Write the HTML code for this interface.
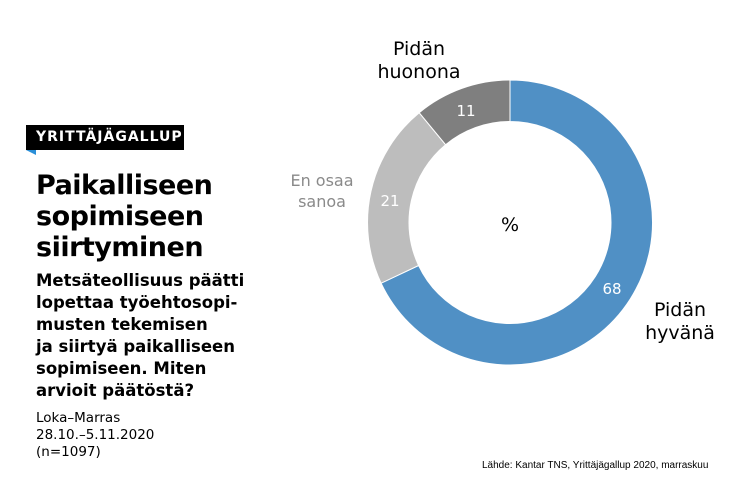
<!DOCTYPE html>
<html><head><meta charset="utf-8"><style>
body{margin:0;width:750px;height:499px;background:#fff;font-family:"DejaVu Sans","Liberation Sans",sans-serif;position:relative;overflow:hidden}
.a{position:absolute;white-space:nowrap}
</style></head><body>
<div class="a" style="left:26px;top:125px;width:158px;height:25px;background:#000"></div>
<div class="a" style="left:36px;top:129px;color:#fff;font-weight:bold;font-size:14px;letter-spacing:1px">YRITTÄJÄGALLUP</div>
<svg class="a" style="left:26px;top:150px" width="12" height="6"><polygon points="0,0 10,0 10,5" fill="#2a8fd8"/></svg>
<div class="a" style="left:36px;top:170px;font-weight:bold;font-size:27px;line-height:31px;letter-spacing:-0.5px">Paikalliseen<br>sopimiseen<br>siirtyminen</div>
<div class="a" style="left:36px;top:270px;font-weight:bold;font-size:16.5px;line-height:22px">Metsäteollisuus päätti<br>lopettaa työehtosopi-<br>musten tekemisen<br>ja siirtyä paikalliseen<br>sopimiseen. Miten<br>arvioit päätöstä?</div>
<div class="a" style="left:36px;top:410px;font-size:13.5px;line-height:17px">Loka–Marras<br>28.10.–5.11.2020<br>(n=1097)</div>
<div class="a" style="left:482px;top:460px;font-size:10px;font-family:'Liberation Sans',sans-serif">Lähde: Kantar TNS, Yrittäjägallup 2020, marraskuu</div>
<svg class="a" style="left:0;top:0" width="750" height="499">
<path d="M510,80 A142.5,142.5 0 1 1 381.1,283.2 L418.6,265.5 A101,101 0 1 0 510,121.5 Z" fill="#5090c5" stroke="#fff" stroke-width="1"/>
<path d="M381.1,283.2 A142.5,142.5 0 0 1 419.2,112.7 L445.6,144.7 A101,101 0 0 0 418.6,265.5 Z" fill="#bdbdbd" stroke="#fff" stroke-width="1"/>
<path d="M419.2,112.7 A142.5,142.5 0 0 1 510,80 L510,121.5 A101,101 0 0 0 445.6,144.7 Z" fill="#7f7f7f" stroke="#fff" stroke-width="1"/>
<g font-family="DejaVu Sans,sans-serif" font-size="15" fill="#fff" text-anchor="middle">
<text x="466" y="116">11</text><text x="390" y="206">21</text><text x="612" y="294">68</text></g>
<text x="510" y="231" font-size="19" text-anchor="middle" font-family="DejaVu Sans,sans-serif">%</text>
<g font-family="DejaVu Sans,sans-serif" font-size="19" text-anchor="middle">
<text x="419" y="55">Pidän</text><text x="419" y="78">huonona</text>
<text x="680" y="316">Pidän</text><text x="680" y="339">hyvänä</text></g>
<g font-family="DejaVu Sans,sans-serif" font-size="16" fill="#8a8a8a" text-anchor="middle">
<text x="322" y="186">En osaa</text><text x="322" y="207">sanoa</text></g>
</svg>
</body></html>
